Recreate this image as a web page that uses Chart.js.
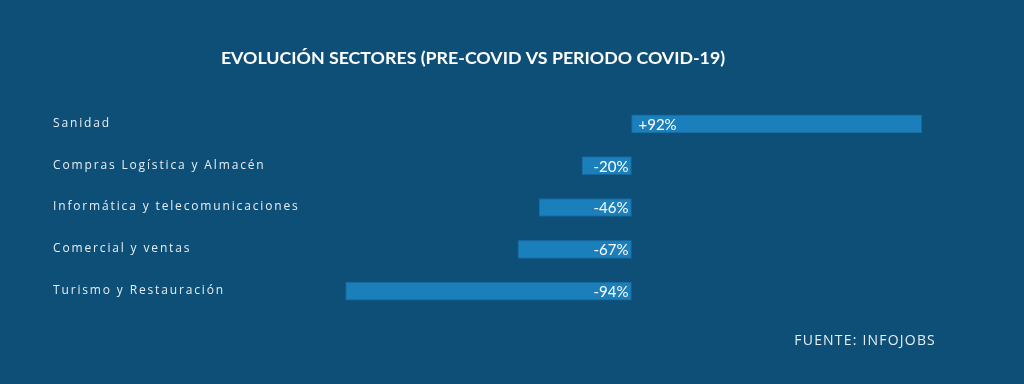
<!DOCTYPE html>
<html>
<head>
<meta charset="utf-8">
<script src="https://cdn.jsdelivr.net/npm/chart.js@4"></script>
<style>
  html, body { margin: 0; padding: 0; background: #0e4f78; }
  #wrap { width: 1024px; height: 384px; position: relative; }
</style>
</head>
<body>
<div id="wrap"><canvas id="c" width="1024" height="384"></canvas></div>
<script>
// ---- data ----
const titleText = "EVOLUCIÓN SECTORES (PRE-COVID VS PERIODO COVID-19)";
const sourceText = "FUENTE: INFOJOBS";
const categories = [
  "Sanidad",
  "Compras Logística y Almacén",
  "Informática y telecomunicaciones",
  "Comercial y ventas",
  "Turismo y Restauración"
];
// printed change labels
const changeLabels = ["+92%", "-20%", "-46%", "-67%", "-94%"];
// bar lengths as drawn in the picture (the graphic is not to scale)
const barLength = [92, -15.7, -29.3, -36, -90.6];

const BG = "#0e4f78";
const BAR = "#1a7fbb";

const textPlugin = {
  id: "textPlugin",
  afterDatasetsDraw(chart) {
    const ctx = chart.ctx;
    const y = chart.scales.y;
    ctx.save();
    // title
    ctx.fillStyle = "#ffffff";
    ctx.font = "bold 17.8px Lato";
    ctx.textAlign = "center";
    ctx.textBaseline = "middle";
    ctx.fillText(titleText, 473, 58);
    // category labels
    ctx.font = "12px 'Open Sans'";
    ctx.letterSpacing = "1.85px";
    ctx.textAlign = "left";
    ctx.fillStyle = "#e6eef4";
    categories.forEach((c, i) => {
      ctx.fillText(c, 53, y.getPixelForTick(i) - 0.5);
    });
    // source
    ctx.font = "14px 'Open Sans'";
    ctx.letterSpacing = "1.2px";
    ctx.textAlign = "right";
    ctx.fillText(sourceText, 936, 341);
    ctx.letterSpacing = "0px";
    // value labels
    ctx.font = "15px Lato";
    ctx.fillStyle = "#ffffff";
    const meta = chart.getDatasetMeta(0);
    meta.data.forEach((bar, i) => {
      const v = barLength[i];
      if (v >= 0) {
        ctx.textAlign = "left";
        ctx.fillText(changeLabels[i], bar.base + 7, bar.y + 1);
      } else {
        ctx.textAlign = "right";
        ctx.fillText(changeLabels[i], bar.base - 3, bar.y + 1);
      }
    });
    ctx.restore();
  }
};

new Chart(document.getElementById("c"), {
  type: "bar",
  data: {
    labels: categories,
    datasets: [{
      data: barLength,
      backgroundColor: BAR,
      borderColor: "#15679a",
      borderWidth: 1,
      borderSkipped: false,
      barThickness: 18
    }]
  },
  options: {
    indexAxis: "y",
    responsive: false,
    animation: false,
    layout: { padding: { left: 345, right: 77, top: 103, bottom: 72 } },
    plugins: { legend: { display: false }, tooltip: { enabled: false }, title: { display: false } },
    scales: {
      x: { display: false, min: -90.8, max: 100, grid: { display: false } },
      y: { display: false, grid: { display: false } }
    }
  },
  plugins: [textPlugin]
});
</script>
</body>
</html>
